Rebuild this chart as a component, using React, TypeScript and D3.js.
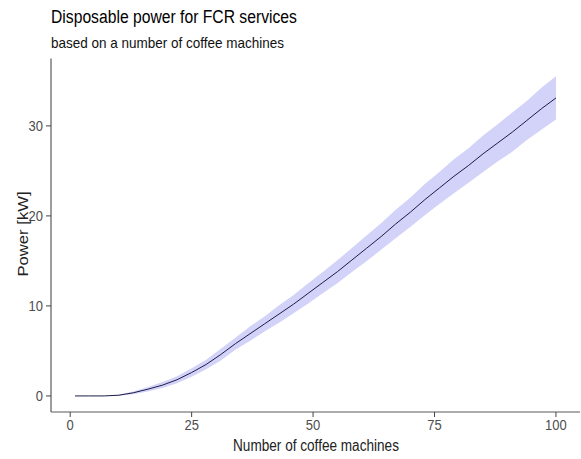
import React from 'react';
import * as d3 from 'd3';

// number of coffee machines
const machines = [1, 4, 7, 10, 13, 16, 19, 22, 25, 28, 31, 34, 37, 40, 43, 46, 49, 52, 55, 58, 61, 64, 67, 70, 73, 76, 79, 82, 85, 88, 91, 94, 97, 100];
// mean disposable power [kW]
const power = [0, 0, 0, 0.08, 0.35, 0.75, 1.2, 1.8, 2.6, 3.5, 4.6, 5.8, 6.9, 8.0, 9.1, 10.2, 11.4, 12.6, 13.8, 15.1, 16.4, 17.7, 19.1, 20.4, 21.8, 23.1, 24.4, 25.6, 26.9, 28.1, 29.3, 30.6, 31.9, 33.1];
// band limits
const lower = [0, 0, 0, 0.03, 0.2, 0.5, 0.88, 1.42, 2.12, 2.97, 3.95, 5.12, 6.1, 7.17, 8.12, 9.18, 10.28, 11.42, 12.52, 13.78, 14.97, 16.23, 17.52, 18.78, 20.07, 21.33, 22.52, 23.68, 24.87, 26.03, 27.12, 28.43, 29.57, 30.7];
const upper = [0, 0, 0, 0.13, 0.5, 1.0, 1.54, 2.18, 3.08, 4.02, 5.25, 6.47, 7.71, 8.83, 10.08, 11.22, 12.53, 13.77, 15.08, 16.42, 17.83, 19.17, 20.68, 22.02, 23.53, 24.87, 26.28, 27.52, 28.93, 30.17, 31.48, 32.77, 34.23, 35.5];

const xTicks = [0, 25, 50, 75, 100];
const yTicks = [0, 10, 20, 30];

const W = 581;
const H = 459;
const SY = 1.15; // the picture is a bit stretched vertically

export default function App() {
  const x = d3.scaleLinear().domain([-3.95, 104.95]).range([51, 580]);
  const y = d3.scaleLinear().domain([-1.785, 37.485]).range([412, 58.5]);

  const idx = machines.map((_, i) => i);

  const band = d3.area<number>()
    .x(i => x(machines[i]))
    .y0(i => y(lower[i]))
    .y1(i => y(upper[i]));

  const line = d3.line<number>()
    .x(i => x(machines[i]))
    .y(i => y(power[i]));

  const font = '"Liberation Sans", Arial, sans-serif';

  return (
    <svg width={W} height={H} style={{ position: 'absolute', left: 0, top: 0, background: '#fff' }} fontFamily={font}>
      <path d={band(idx) || ''} fill="#d3d3f9" />
      <path d={line(idx) || ''} fill="none" stroke="#1c1c48" strokeWidth={1} />

      {/* axes */}
      <line x1={51} x2={51} y1={58.5} y2={412} stroke="#5a5a5a" strokeWidth={1.2} />
      <line x1={51} x2={580} y1={412} y2={412} stroke="#5a5a5a" strokeWidth={1.2} />

      {yTicks.map(t => (
        <g key={'y' + t}>
          <line x1={46} x2={51} y1={y(t)} y2={y(t)} stroke="#444" strokeWidth={1} />
          <text transform={`translate(43,${y(t) + 5}) scale(1,${SY})`} textAnchor="end" fontSize={13} fill="#4d4d4d">{t}</text>
        </g>
      ))}
      {xTicks.map(t => (
        <g key={'x' + t}>
          <line x1={x(t)} x2={x(t)} y1={412} y2={417} stroke="#444" strokeWidth={1} />
          <text transform={`translate(${x(t)},${430}) scale(1,${SY})`} textAnchor="middle" fontSize={13} fill="#4d4d4d">{t}</text>
        </g>
      ))}

      <text transform={`translate(316,451) scale(1,${SY})`} textAnchor="middle" fontSize={13.6} fill="#222">Number of coffee machines</text>
      <text transform={`translate(28,234) rotate(-90) scale(${SY},1)`} textAnchor="middle" fontSize={14.5} fill="#222">Power [kW]</text>

      <text transform={`translate(51,23) scale(1,${SY})`} fontSize={15.7} fill="#000">Disposable power for FCR services</text>
      <text transform={`translate(51,48) scale(1,${SY})`} fontSize={13.5} fill="#111">based on a number of coffee machines</text>
    </svg>
  );
}
